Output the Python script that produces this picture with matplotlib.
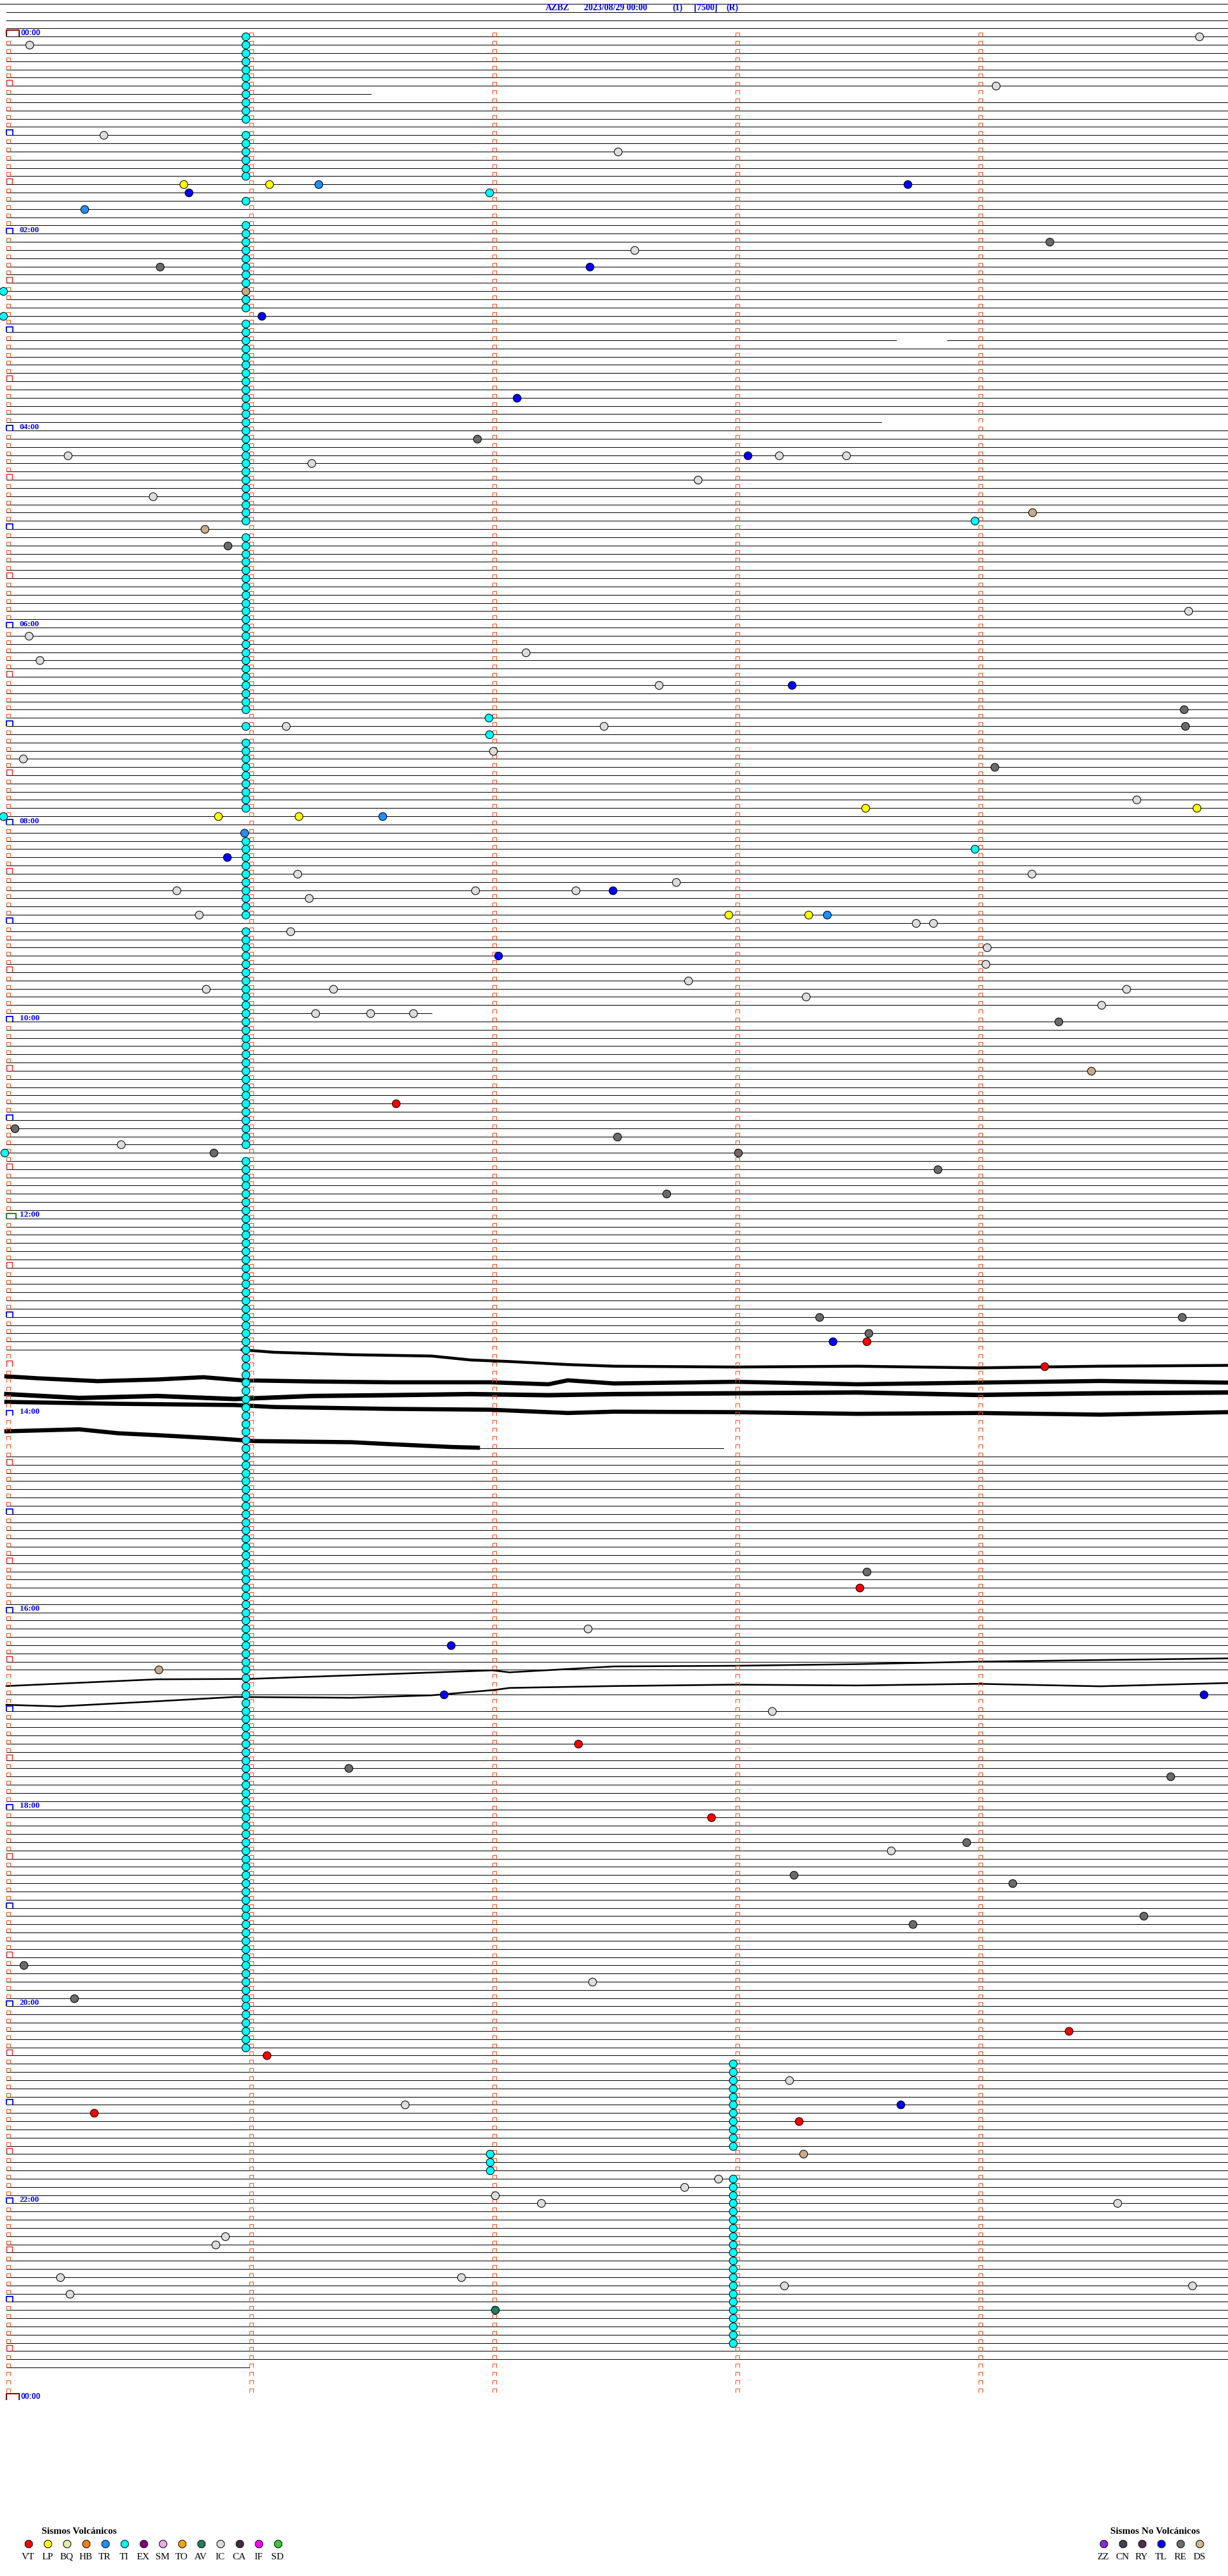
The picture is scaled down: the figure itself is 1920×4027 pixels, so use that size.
import numpy as np
import matplotlib
matplotlib.use('Agg')
from matplotlib import pyplot as plt
from matplotlib.path import Path

# helicorder page: 5 minutes per row, 288 rows for the day
W, H, DPI = 1920, 4027, 100
ROW_MIN = 5
NROWS = 288
ROW0_PX, ROW_PX = 57.3, 12.83      # first row baseline / row spacing (pixels)
MIN0_PX, MIN_PX = 10.0, 380.0      # minute 0 / one minute (pixels)

# rows drawn only partly: row -> list of (start, end) in minutes
row_segments = {7: [(0, 1.5)], 37: [(0, 3.66), (3.87, 5.03)], 47: [(0, 3.6)],
                119: [(0, 1.75)], 160: [(0, 0.97)], 172: [(1.94, 2.95)],
                284: [(0, 1.0)]}
rows_missing = [161, 162, 163, 164, 165, 166, 167, 168, 169, 170, 171,
                200, 201, 203, 285, 286, 287]
header_rows = [-4, -3, -2, -1]

# noisy stretches of trace (minute in row, vertical position in rows)
trace_a_min = [0.97, 1.10, 1.42, 1.75, 1.91, 2.07, 2.31, 2.50, 3.0, 3.5, 4.0, 4.5, 5.03]
trace_a_row = [160.0, 160.3, 160.6, 160.76, 161.24, 161.43, 161.8, 162.0, 162.1, 162.0, 162.2, 162.0, 161.9]
trace_b_min = [0.0, 0.135, 0.376, 0.618, 0.81, 0.97, 1.26, 1.58, 1.99, 2.23, 2.31, 2.50, 3.0, 3.5, 4.0, 4.5, 5.03]
trace_b_row = [163.24, 163.48, 163.82, 163.62, 163.34, 163.72, 163.86, 163.96, 163.96, 164.2, 163.72, 164.1,
               163.9, 164.2, 164.0, 163.8, 164.0]
trace_c_min = [0.0, 0.3, 0.62, 0.94, 1.26, 1.58, 1.91, 2.23, 2.5, 3.0, 3.5, 4.0, 4.5, 5.03]
trace_c_row = [165.4, 165.87, 165.63, 166.0, 165.63, 165.53, 165.4, 165.53, 165.4, 165.3, 165.2, 165.5, 165.3, 165.2]
trace_d_min = [0.0, 0.46, 0.94, 1.10, 1.58, 1.99, 2.31, 2.5, 3.0, 3.5, 4.0, 4.5, 5.03]
trace_d_row = [166.35, 166.58, 166.73, 166.97, 167.2, 167.3, 167.7, 167.54, 167.6, 167.8, 167.7, 167.9, 167.6]
trace_e_min = [0.0, 0.3, 0.46, 0.62, 0.86, 1.02, 1.42, 1.58, 1.83, 1.94]
trace_e_row = [169.93, 169.69, 170.17, 170.4, 170.79, 171.12, 171.26, 171.5, 171.84, 171.93]
trace_f_min = [0.0, 0.618, 1.0, 1.58, 2.0, 2.07, 2.5, 3.0, 3.5, 4.0, 4.5, 5.03]
trace_f_row = [200.97, 200.15, 200.1, 199.5, 199.06, 199.3, 198.58, 198.5, 198.3, 198.0, 197.8, 197.6]
trace_g_min = [0.0, 0.215, 0.586, 0.94, 1.42, 1.75, 2.01, 2.07, 2.5, 3.0, 3.5, 4.0, 4.5, 5.03]
trace_g_row = [203.26, 203.45, 202.88, 202.3, 202.4, 202.1, 201.44, 201.2, 200.97, 200.8, 200.9, 200.7, 201.0, 200.6]

# events: (row, minute within row)
ti_column_runs = [(0, 10), (12, 17), (20, 20), (23, 30), (32, 33), (35, 59), (61, 82), (84, 84),
                  (86, 94), (98, 107), (109, 135), (137, 245)]
ti_column_min = 0.985
ti_late_runs = [(247, 257, 2.99), (258, 260, 1.99), (261, 281, 2.99)]
ti_events = [(19, 1.988), (31, -0.013), (34, -0.013), (59, 3.985), (83, 1.983), (85, 1.986),
             (95, -0.013), (99, 3.985), (136, -0.009)]
vt_events = [(130, 1.603), (159, 3.54), (162, 4.27), (189, 3.51), (208, 2.353), (217, 2.90),
             (243, 4.37), (246, 1.07), (253, 0.36), (254, 3.26)]
lp_events = [(18, 0.728), (18, 1.082), (94, 3.533), (94, 4.897), (95, 0.872), (95, 1.203),
             (107, 2.972), (107, 3.301)]
tr_events = [(18, 1.284), (21, 0.322), (95, 1.548), (97, 0.979), (107, 3.376)]
av_events = [(277, 2.01)]
ic_events = [(0, 4.907), (1, 0.095), (6, 4.071), (12, 0.399), (14, 2.516), (26, 2.584), (51, 0.252),
             (51, 3.178), (51, 3.455), (52, 1.256), (54, 2.846), (56, 0.602), (70, 4.862), (73, 0.093),
             (75, 2.137), (76, 0.138), (79, 2.684), (84, 1.150), (84, 2.459), (87, 2.002), (88, 0.069),
             (93, 4.651), (102, 1.198), (102, 4.219), (103, 2.755), (104, 0.700), (104, 1.929),
             (104, 2.343), (105, 1.245), (107, 0.792), (108, 3.742), (108, 3.813), (109, 1.169),
             (111, 4.035), (113, 4.029), (115, 2.806), (116, 0.821), (116, 1.346), (116, 4.607),
             (117, 3.289), (118, 4.506), (119, 1.272), (119, 1.498), (119, 1.673), (135, 0.470),
             (194, 2.393), (204, 3.15), (221, 3.64), (237, 2.41), (249, 3.22), (252, 1.64), (261, 2.93),
             (262, 2.79), (263, 2.01), (264, 2.20), (264, 4.57), (268, 0.90), (269, 0.86), (273, 0.22),
             (273, 1.87), (274, 3.20), (274, 4.88), (275, 0.26)]
re_events = [(25, 4.293), (28, 0.631), (49, 1.938), (62, 0.911), (82, 4.844), (84, 4.850), (89, 4.067),
             (120, 4.330), (133, 0.035), (134, 2.513), (136, 0.853), (136, 3.011), (138, 3.832),
             (141, 2.716), (156, 3.345), (156, 4.837), (158, 3.547), (187, 3.54), (211, 1.409),
             (212, 4.79), (220, 3.95), (224, 3.24), (225, 4.14), (229, 4.68), (230, 3.73), (235, 0.07),
             (239, 0.28)]
tl_events = [(18, 3.707), (19, 0.750), (28, 2.401), (34, 1.050), (44, 2.100), (51, 3.049), (79, 3.231),
             (100, 0.907), (104, 2.495), (112, 2.024), (159, 3.40), (196, 1.829), (202, 1.799),
             (202, 4.925), (252, 3.68)]
ds_events = [(31, 0.985), (58, 4.221), (60, 0.815), (126, 4.462), (199, 0.626), (258, 3.28)]

ev_colors = {'VT': '#FF0000', 'LP': '#FFFF00', 'TR': '#1E90FF', 'TI': '#00FFFF', 'AV': '#1F7F5F',
             'IC': '#DCDCDC', 'TL': '#0000FF', 'RE': '#6A6A6A', 'DS': '#C8AA88'}

vol_codes = ['VT', 'LP', 'BQ', 'HB', 'TR', 'TI', 'EX', 'SM', 'TO', 'AV', 'IC', 'CA', 'IF', 'SD']
vol_colors = ['#FF0000', '#FFFF00', '#EEE8AA', '#FF8000', '#1E90FF', '#00FFFF', '#800080', '#EEA8EE',
              '#FFA500', '#1F7F5F', '#DCDCDC', '#4A2545', '#FF00FF', '#32CD32']
nov_codes = ['ZZ', 'CN', 'RY', 'TL', 'RE', 'DS']
nov_colors = ['#8A2BE2', '#4B3A5A', '#4E2E50', '#0000FF', '#6E6E6E', '#D2B48C']

title_parts = ['AZBZ', '2023/08/29 00:00', '(1)', '[7500]', '(R)']
title_px = [853, 913, 1051, 1085, 1135]

fig = plt.figure(figsize=(W / DPI, H / DPI), dpi=DPI)
ax = fig.add_axes([0, 0, 1, 1])
ax.set_xlim(-MIN0_PX / MIN_PX, (W - MIN0_PX) / MIN_PX)
ax.set_ylim((H - ROW0_PX) / ROW_PX, -ROW0_PX / ROW_PX)
ax.axis('off')

# overlay in pixel units for title / legend
ov = fig.add_axes([0, 0, 1, 1], facecolor='none')
ov.set_xlim(0, W)
ov.set_ylim(H, 0)
ov.axis('off')

PT = 72.0 / DPI  # points per pixel

# ---- trace baselines
ys, x0s, x1s = [], [], []
for r in header_rows:
    ys.append(r); x0s.append(-0.03 if r == -4 else 0); x1s.append(5.03)
for r in range(NROWS):
    if r in rows_missing:
        continue
    for a, b in row_segments.get(r, [(0, 5.03)]):
        ys.append(r); x0s.append(a); x1s.append(b)
ax.hlines(ys, x0s, x1s, color='black', lw=1.0 * PT, antialiased=False, zorder=2)

# noisy bands drawn as thick strokes
for xm, yr, lw in [(trace_a_min, trace_a_row, 4.5), (trace_b_min, trace_b_row, 6.5),
                   (trace_c_min, trace_c_row, 7), (trace_d_min, trace_d_row, 6.5),
                   (trace_e_min, trace_e_row, 6.5), (trace_f_min, trace_f_row, 2.6),
                   (trace_g_min, trace_g_row, 2.6)]:
    ax.plot(xm, yr, color='black', lw=lw * PT, solid_joinstyle='round', zorder=2)


# ---- minute / hour ticks, open-bottom boxes sitting on the row
def cap(w, h):
    s = float(max(w, h))
    p = Path([(0, 0), (0, h / s), (w / s, h / s), (w / s, 0)],
             [Path.MOVETO, Path.LINETO, Path.LINETO, Path.LINETO])
    return p, 2 * s * PT


tick_path, tick_ms = cap(6, 6)
half_path, half_ms = cap(9, 9)
hour_path, hour_ms = cap(10, 8)
day_path, day_ms = cap(20, 10)
noon_path, noon_ms = cap(15, 8)

rows = np.arange(NROWS)
for col in range(1, 5):
    ax.plot(np.full(NROWS, col), rows, ls='none', marker=tick_path, ms=tick_ms,
            mfc='none', mec='#FF4A10', mew=1.0 * PT, zorder=3)
plain = [r for r in rows if r % 6 != 0]
ax.plot(np.zeros(len(plain)), plain, ls='none', marker=tick_path, ms=tick_ms,
        mfc='none', mec='#FF4A10', mew=1.0 * PT, zorder=3)
halves = [r for r in rows if r % 12 == 6]
ax.plot(np.zeros(len(halves)), halves, ls='none', marker=half_path, ms=half_ms,
        mfc='none', mec='#FF1010', mew=1.3 * PT, zorder=3)
hours = [r for r in rows if r % 12 == 0 and r not in (0, 144)]
ax.plot(np.zeros(len(hours)), hours, ls='none', marker=hour_path, ms=hour_ms,
        mfc='none', mec='#0000FF', mew=1.8 * PT, zorder=3)
ax.plot([0], [144], ls='none', marker=noon_path, ms=noon_ms, mfc='none', mec='#008000',
        mew=1.8 * PT, zorder=3)
ax.plot([0, 0], [0, NROWS], ls='none', marker=day_path, ms=day_ms, mfc='none', mec='#8B0000',
        mew=2.0 * PT, zorder=3)

for r in range(0, NROWS + 1, 24):
    hh = (r // 12) % 24
    if r in (0, NROWS):
        ax.text(0.058, r - 0.42, '%02d:00' % hh, color='#0000FF', fontsize=8.7,
                family='Liberation Sans', weight='bold', va='center', ha='left', zorder=4)
    else:
        ax.text(0.055, r - 0.42, '%02d:00' % hh, color='#0000FF', fontsize=9.5,
                family='Liberation Serif', weight='bold', va='center', ha='left', zorder=4)

# ---- events
EV_MS = 8.9


def put(evts, color, z=5):
    if not evts:
        return
    r = [e[0] for e in evts]
    m = [e[1] for e in evts]
    ax.plot(m, r, ls='none', marker='o', ms=EV_MS, mfc=color, mec='black', mew=0.75, zorder=z)


col_events = []
for a, b in ti_column_runs:
    col_events += [(r, ti_column_min) for r in range(a, b + 1)]
for a, b, m in ti_late_runs:
    col_events += [(r, m) for r in range(a, b + 1)]
put(col_events, ev_colors['TI'], z=5)
put(ti_events, ev_colors['TI'], z=6)
put(ic_events, ev_colors['IC'], z=6)
put(re_events, ev_colors['RE'], z=6)
put(tl_events, ev_colors['TL'], z=6)
put(lp_events, ev_colors['LP'], z=6)
put(tr_events, ev_colors['TR'], z=6)
put(ds_events, ev_colors['DS'], z=6)
put(vt_events, ev_colors['VT'], z=6)
put(av_events, ev_colors['AV'], z=6)

# ---- title
for txt, px in zip(title_parts, title_px):
    ov.text(px, 12.5, txt, color='#0000EE', fontsize=10, family='Liberation Serif',
            weight='bold', ha='left', va='center')

# ---- legends
ov.text(124, 3957, 'Sismos Volcánicos', fontsize=11, family='Liberation Serif', weight='bold',
        ha='center', va='center')
vx = 45 + 30 * np.arange(len(vol_codes))
ov.scatter(vx, np.full(len(vx), 3977), s=(12.5 * PT) ** 2, c=vol_colors, edgecolors='black',
           linewidths=0.75, marker='8', zorder=5)
for x, c in zip(vx, vol_codes):
    ov.text(x - 1, 3997, c, fontsize=11, family='Liberation Serif', ha='center', va='center')

ov.text(1806, 3957, 'Sismos No Volcánicos', fontsize=11, family='Liberation Serif', weight='bold',
        ha='center', va='center')
nx = 1726 + 30 * np.arange(len(nov_codes))
ov.scatter(nx, np.full(len(nx), 3977), s=(12.5 * PT) ** 2, c=nov_colors, edgecolors='black',
           linewidths=0.75, marker='8', zorder=5)
for x, c in zip(nx, nov_codes):
    ov.text(x - 1, 3997, c, fontsize=11, family='Liberation Serif', ha='center', va='center')

fig.savefig('out.png', dpi=DPI, facecolor='white')
